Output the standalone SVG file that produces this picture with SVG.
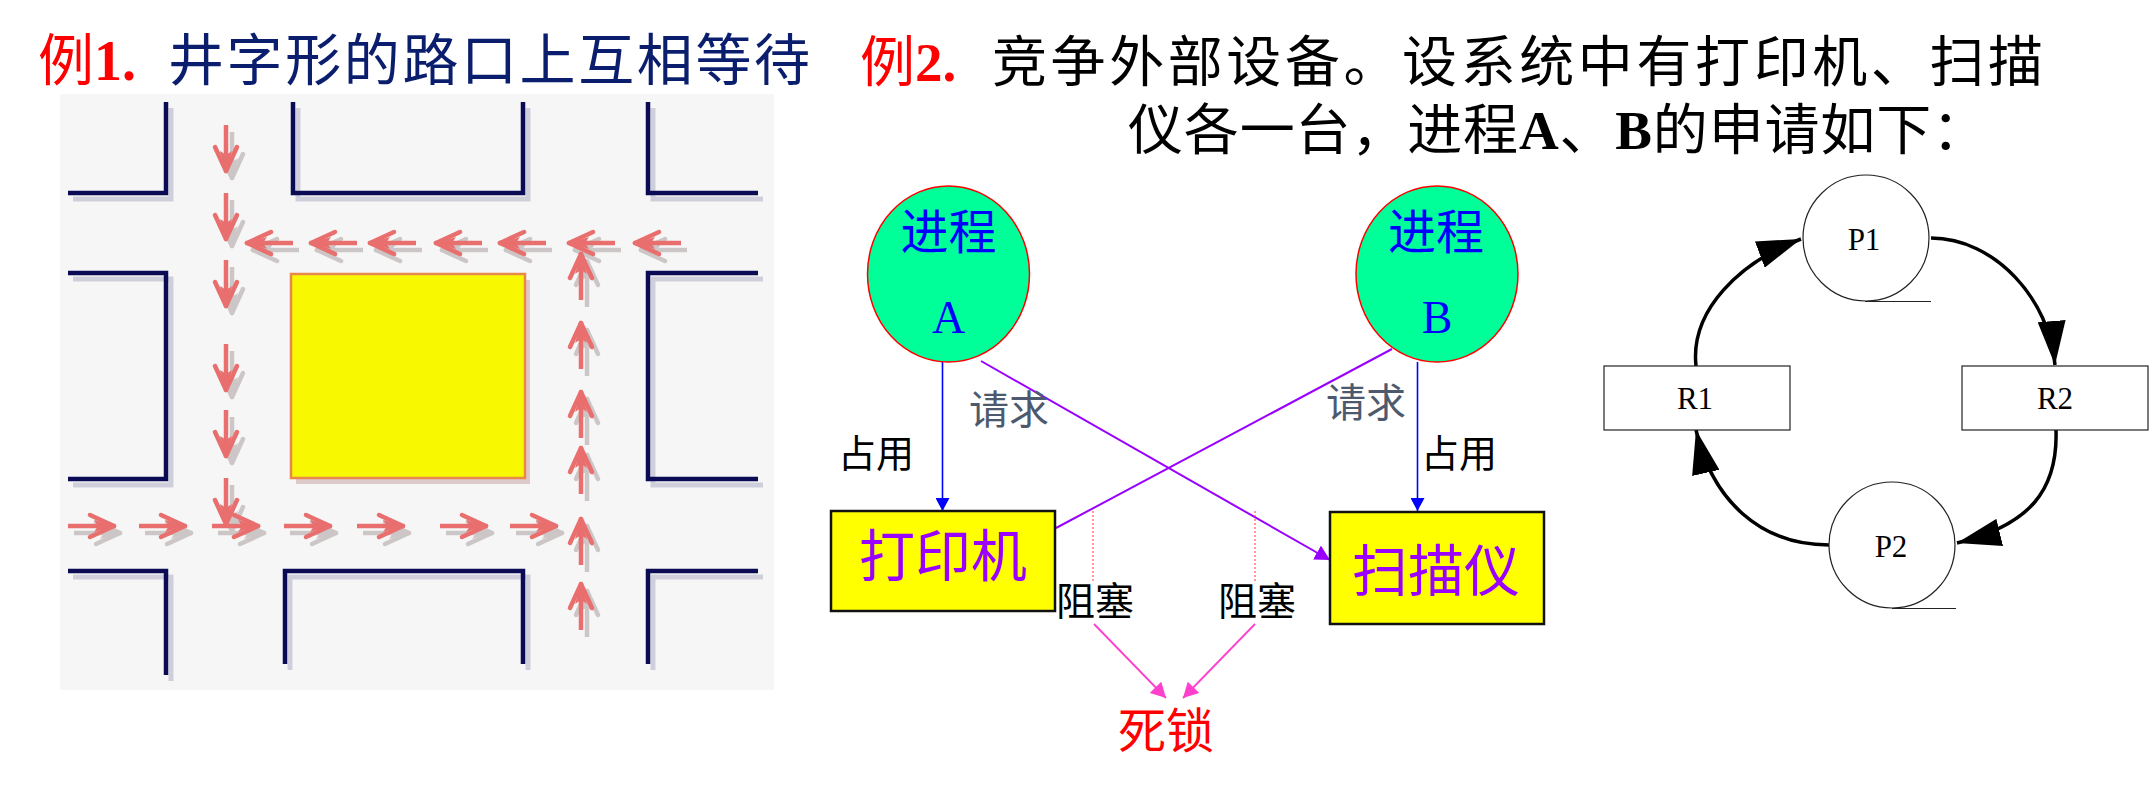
<svg xmlns="http://www.w3.org/2000/svg" xmlns:xlink="http://www.w3.org/1999/xlink" width="2154" height="787" viewBox="0 0 2154 787">
<style>
.cjk{font-family:"Liberation Serif","Noto Sans CJK SC",serif}
.ser{font-family:"Liberation Serif","Noto Sans CJK SC",serif}
.wall{fill:none;stroke:#0a0a55;stroke-width:4.5}
.wallsh{fill:none;stroke:#cfcfdc;stroke-width:5}
.ar{fill:#e96f6f;stroke:#e96f6f}
.sh{fill:#cdc6c6;stroke:#cdc6c6}
.thin{fill:#fff;stroke:#222;stroke-width:1.2}
.cyc{fill:none;stroke:#000;stroke-width:3.5;marker-end:url(#mk)}
</style>
<defs>
<g id="arw">
<line x1="0" y1="0" x2="40" y2="0" style="stroke-width:4.5"/>
<path d="M46,0 L22,-11" style="stroke-width:4.5;stroke-linecap:round;fill:none"/>
<path d="M46,0 L22,11" style="stroke-width:4.5;stroke-linecap:round;fill:none"/>
<path d="M46,0 L26,-6 L30,0 L26,6 Z" style="stroke:none"/>
</g>
<marker id="mk" markerUnits="userSpaceOnUse" markerWidth="46" markerHeight="28" refX="44" refY="14" orient="auto">
<path d="M0,0 L44,14 L0,28 Z" fill="#000"/>
</marker>
<marker id="mb" markerUnits="userSpaceOnUse" markerWidth="14" markerHeight="14" refX="13" refY="7" orient="auto">
<path d="M0,0 L13,7 L0,14 Z" fill="#0000ff"/>
</marker>
<marker id="mp" markerUnits="userSpaceOnUse" markerWidth="16" markerHeight="16" refX="15" refY="8" orient="auto">
<path d="M0,0 L15,8 L0,16 Z" fill="#9900ff"/>
</marker>
<marker id="mm" markerUnits="userSpaceOnUse" markerWidth="16" markerHeight="16" refX="15" refY="8" orient="auto">
<path d="M0,0 L15,8 L0,16 Z" fill="#ff40cc"/>
</marker>
</defs>

<!-- Titles -->
<g id="title1">
<text class="cjk" x="38" y="80" font-size="56" fill="#ff0000">例<tspan font-weight="bold">1.</tspan></text>
<text class="cjk" x="168" y="80" font-size="56" fill="#0b1e6e" textLength="642" lengthAdjust="spacing">井字形的路口上互相等待</text>
</g>
<g id="title2">
<text class="cjk" x="860" y="81" font-size="55" fill="#ff0000">例<tspan font-weight="bold">2.</tspan></text>
<text class="cjk" x="992" y="81" font-size="55" fill="#000" textLength="1051" lengthAdjust="spacing">竞争外部设备。设系统中有打印机、扫描</text>
<text class="cjk" x="1128" y="149" font-size="55" fill="#000" textLength="859" lengthAdjust="spacing">仪各一台，进程<tspan font-weight="bold">A</tspan>、<tspan font-weight="bold">B</tspan>的申请如下：</text>
</g>

<!-- Example 1: crossroads picture -->
<g id="crossroads">
<rect x="60" y="94" width="714" height="596" fill="#f6f6f6"/>
<g transform="translate(5,6)">
<path class="wallsh" d="M166,102 V193 H68"/>
<path class="wallsh" d="M293,102 V193 H523 V102"/>
<path class="wallsh" d="M648,102 V193 H758"/>
<path class="wallsh" d="M68,273 H166 V479 H68"/>
<path class="wallsh" d="M758,273 H648 V479 H758"/>
<path class="wallsh" d="M68,571 H166 V675"/>
<path class="wallsh" d="M285,664 V571 H523 V664"/>
<path class="wallsh" d="M648,664 V571 H758"/>
<rect x="291" y="274" width="234" height="204" fill="#dccaca"/>
</g>
<path class="wall" d="M166,102 V193 H68"/>
<path class="wall" d="M293,102 V193 H523 V102"/>
<path class="wall" d="M648,102 V193 H758"/>
<path class="wall" d="M68,273 H166 V479 H68"/>
<path class="wall" d="M758,273 H648 V479 H758"/>
<path class="wall" d="M68,571 H166 V675"/>
<path class="wall" d="M285,664 V571 H523 V664"/>
<path class="wall" d="M648,664 V571 H758"/>
<rect x="291" y="274" width="234" height="204" fill="#f8f800" stroke="#e8884a" stroke-width="2.5"/>

<g id="arrows-shadow" transform="translate(6,7)">
<use xlink:href="#arw" class="sh" transform="translate(68,526)"/>
<use xlink:href="#arw" class="sh" transform="translate(139,526)"/>
<use xlink:href="#arw" class="sh" transform="translate(212,526)"/>
<use xlink:href="#arw" class="sh" transform="translate(284,526)"/>
<use xlink:href="#arw" class="sh" transform="translate(357,526)"/>
<use xlink:href="#arw" class="sh" transform="translate(440,526)"/>
<use xlink:href="#arw" class="sh" transform="translate(510,526)"/>
<use xlink:href="#arw" class="sh" transform="translate(293,243) rotate(180)"/>
<use xlink:href="#arw" class="sh" transform="translate(357,243) rotate(180)"/>
<use xlink:href="#arw" class="sh" transform="translate(416,243) rotate(180)"/>
<use xlink:href="#arw" class="sh" transform="translate(482,243) rotate(180)"/>
<use xlink:href="#arw" class="sh" transform="translate(546,243) rotate(180)"/>
<use xlink:href="#arw" class="sh" transform="translate(615,243) rotate(180)"/>
<use xlink:href="#arw" class="sh" transform="translate(681,243) rotate(180)"/>
<use xlink:href="#arw" class="sh" transform="translate(226,125) rotate(90)"/>
<use xlink:href="#arw" class="sh" transform="translate(226,193) rotate(90)"/>
<use xlink:href="#arw" class="sh" transform="translate(226,260) rotate(90)"/>
<use xlink:href="#arw" class="sh" transform="translate(226,344) rotate(90)"/>
<use xlink:href="#arw" class="sh" transform="translate(226,410) rotate(90)"/>
<use xlink:href="#arw" class="sh" transform="translate(226,478) rotate(90)"/>
<use xlink:href="#arw" class="sh" transform="translate(581,300) rotate(-90)"/>
<use xlink:href="#arw" class="sh" transform="translate(581,369) rotate(-90)"/>
<use xlink:href="#arw" class="sh" transform="translate(581,438) rotate(-90)"/>
<use xlink:href="#arw" class="sh" transform="translate(581,494) rotate(-90)"/>
<use xlink:href="#arw" class="sh" transform="translate(581,565) rotate(-90)"/>
<use xlink:href="#arw" class="sh" transform="translate(581,630) rotate(-90)"/>
</g>
<g id="arrows-red">
<use xlink:href="#arw" class="ar" transform="translate(68,526)"/>
<use xlink:href="#arw" class="ar" transform="translate(139,526)"/>
<use xlink:href="#arw" class="ar" transform="translate(212,526)"/>
<use xlink:href="#arw" class="ar" transform="translate(284,526)"/>
<use xlink:href="#arw" class="ar" transform="translate(357,526)"/>
<use xlink:href="#arw" class="ar" transform="translate(440,526)"/>
<use xlink:href="#arw" class="ar" transform="translate(510,526)"/>
<use xlink:href="#arw" class="ar" transform="translate(293,243) rotate(180)"/>
<use xlink:href="#arw" class="ar" transform="translate(357,243) rotate(180)"/>
<use xlink:href="#arw" class="ar" transform="translate(416,243) rotate(180)"/>
<use xlink:href="#arw" class="ar" transform="translate(482,243) rotate(180)"/>
<use xlink:href="#arw" class="ar" transform="translate(546,243) rotate(180)"/>
<use xlink:href="#arw" class="ar" transform="translate(615,243) rotate(180)"/>
<use xlink:href="#arw" class="ar" transform="translate(681,243) rotate(180)"/>
<use xlink:href="#arw" class="ar" transform="translate(226,125) rotate(90)"/>
<use xlink:href="#arw" class="ar" transform="translate(226,193) rotate(90)"/>
<use xlink:href="#arw" class="ar" transform="translate(226,260) rotate(90)"/>
<use xlink:href="#arw" class="ar" transform="translate(226,344) rotate(90)"/>
<use xlink:href="#arw" class="ar" transform="translate(226,410) rotate(90)"/>
<use xlink:href="#arw" class="ar" transform="translate(226,478) rotate(90)"/>
<use xlink:href="#arw" class="ar" transform="translate(581,300) rotate(-90)"/>
<use xlink:href="#arw" class="ar" transform="translate(581,369) rotate(-90)"/>
<use xlink:href="#arw" class="ar" transform="translate(581,438) rotate(-90)"/>
<use xlink:href="#arw" class="ar" transform="translate(581,494) rotate(-90)"/>
<use xlink:href="#arw" class="ar" transform="translate(581,565) rotate(-90)"/>
<use xlink:href="#arw" class="ar" transform="translate(581,630) rotate(-90)"/>
</g>
</g>

<!-- Example 2: processes and devices -->
<g id="connectors-ex2">
<line x1="942.5" y1="362" x2="942.5" y2="511" stroke="#0000ff" stroke-width="1.6" marker-end="url(#mb)"/>
<line x1="1417.5" y1="362" x2="1417.5" y2="511" stroke="#0000ff" stroke-width="1.6" marker-end="url(#mb)"/>
<line x1="981" y1="361" x2="1330" y2="560" stroke="#9900ff" stroke-width="2" marker-end="url(#mp)"/>
<line x1="1392" y1="349" x2="1056" y2="528" stroke="#9900ff" stroke-width="2"/>
<line x1="1093" y1="511" x2="1093" y2="583" stroke="#ff3030" stroke-width="1" stroke-dasharray="2,2"/>
<line x1="1255" y1="511" x2="1255" y2="583" stroke="#ff3030" stroke-width="1" stroke-dasharray="2,2"/>
<line x1="1094" y1="624" x2="1166" y2="698" stroke="#ff40cc" stroke-width="1.8" marker-end="url(#mm)"/>
<line x1="1255" y1="624" x2="1183" y2="698" stroke="#ff40cc" stroke-width="1.8" marker-end="url(#mm)"/>
</g>
<g id="procA">
<ellipse cx="948.5" cy="274" rx="81" ry="88" fill="#00ff99" stroke="#ff0000" stroke-width="1.5"/>
<text class="cjk" x="948.5" y="249" font-size="48" fill="#0000ff" text-anchor="middle">进程</text>
<text class="ser" x="948.5" y="333" font-size="46" fill="#0000ff" text-anchor="middle">A</text>
</g>
<g id="procB">
<ellipse cx="1437" cy="274" rx="81" ry="88" fill="#00ff99" stroke="#ff0000" stroke-width="1.5"/>
<text class="cjk" x="1436" y="249" font-size="48" fill="#0000ff" text-anchor="middle">进程</text>
<text class="ser" x="1437" y="333" font-size="46" fill="#0000ff" text-anchor="middle">B</text>
</g>
<g id="printer">
<rect x="831" y="511" width="224" height="100" fill="#ffff00" stroke="#111" stroke-width="2.5"/>
<text class="cjk" x="859" y="576" font-size="56" fill="#9900ff">打印机</text>
</g>
<g id="scanner">
<rect x="1330" y="512" width="214" height="112" fill="#ffff00" stroke="#111" stroke-width="2.5"/>
<text class="cjk" x="1352" y="591" font-size="56" fill="#9900ff">扫描仪</text>
</g>
<g id="labels-ex2">
<text class="cjk" x="969" y="424" font-size="40" fill="#4d5a6e">请求</text>
<text class="cjk" x="1326" y="417" font-size="40" fill="#4d5a6e">请求</text>
<text class="cjk" x="838" y="467" font-size="38" fill="#000">占用</text>
<text class="cjk" x="1421" y="467" font-size="38" fill="#000">占用</text>
<text class="cjk" x="1056" y="615" font-size="39" fill="#000">阻塞</text>
<text class="cjk" x="1218" y="615" font-size="39" fill="#000">阻塞</text>
</g>
<g id="deadlock">
<text class="cjk" x="1166" y="748" font-size="48" fill="#ff0000" text-anchor="middle">死锁</text>
</g>

<!-- Resource allocation graph -->
<g id="connectors-rag">
<path class="cyc" d="M1696,366 C1690,310 1740,262 1801,239"/>
<path class="cyc" d="M1931,238 C1995,238 2050,300 2055,365"/>
<path class="cyc" d="M2056,430 C2058,490 2030,525 1957,543"/>
<path class="cyc" d="M1829,545 C1760,545 1712,500 1696,430"/>
</g>
<g id="P1">
<circle class="thin" cx="1866" cy="238" r="63"/>
<line x1="1865" y1="301.5" x2="1931" y2="301.5" stroke="#222" stroke-width="1.2"/>
<text class="ser" x="1864" y="250" font-size="31" fill="#000" text-anchor="middle">P1</text>
</g>
<g id="P2">
<circle class="thin" cx="1892" cy="545" r="63"/>
<line x1="1892" y1="608.5" x2="1956" y2="608.5" stroke="#222" stroke-width="1.2"/>
<text class="ser" x="1891" y="557" font-size="31" fill="#000" text-anchor="middle">P2</text>
</g>
<g id="R1">
<rect class="thin" x="1604" y="366" width="186" height="64"/>
<text class="ser" x="1695" y="409" font-size="31" fill="#000" text-anchor="middle">R1</text>
</g>
<g id="R2">
<rect class="thin" x="1962" y="366" width="186" height="64"/>
<text class="ser" x="2055" y="409" font-size="31" fill="#000" text-anchor="middle">R2</text>
</g>
</svg>
